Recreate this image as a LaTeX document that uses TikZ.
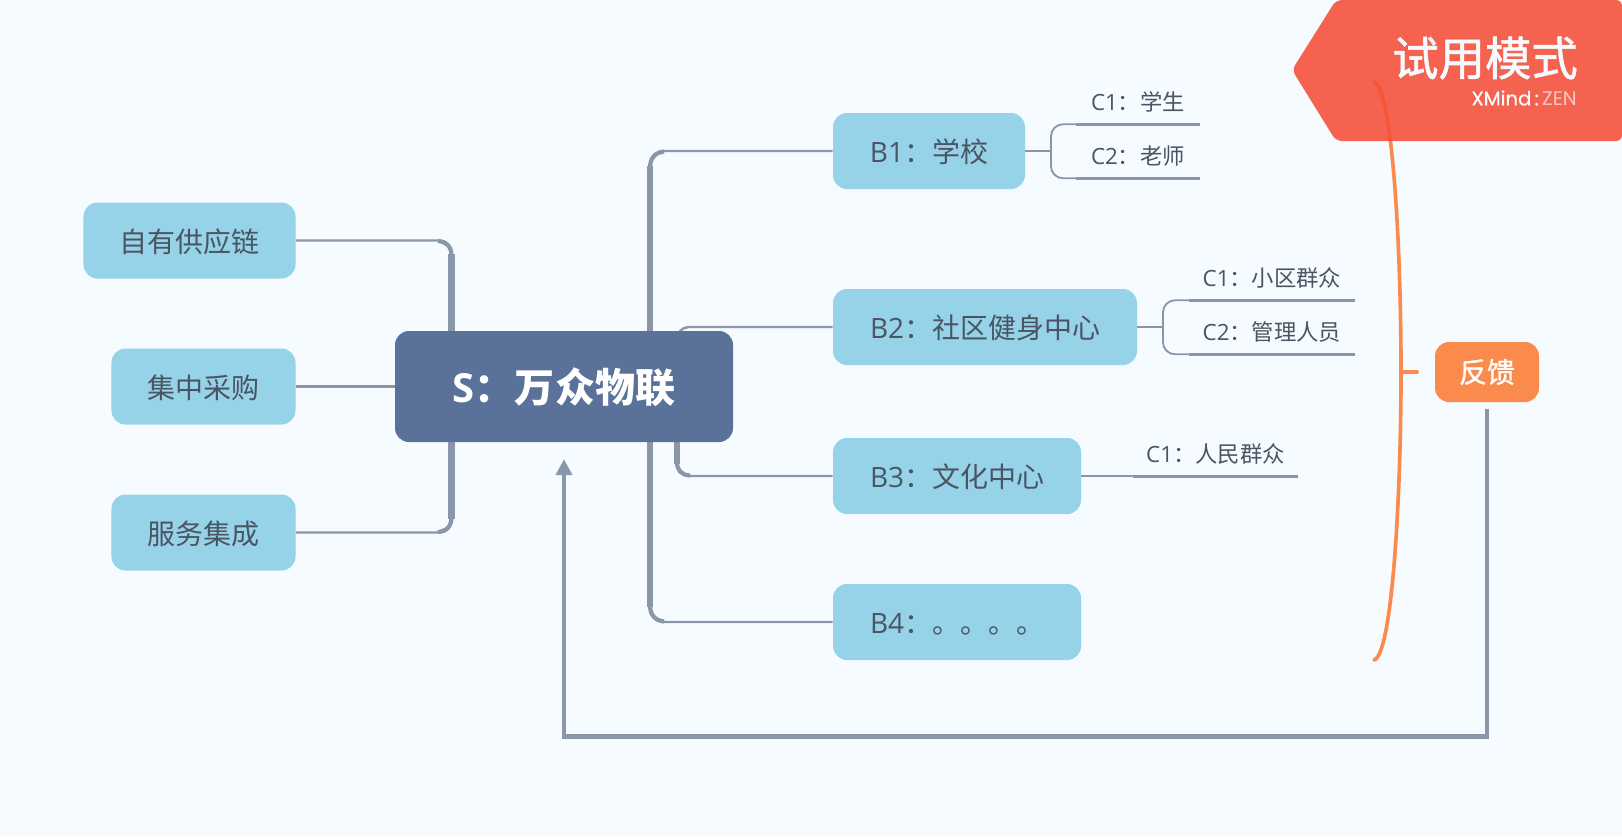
\documentclass[tikz,border=0pt]{standalone}
\usepackage{fontspec}
\setmainfont{Open Sans}
\newfontfamily\cjk{Noto Sans CJK SC}
\newfontfamily\cjkheavy[FakeBold=1.2]{Noto Sans CJK SC}
\newfontfamily\logofont{Poppins}
\newfontfamily\logoheavy[FakeBold=0.7]{Poppins}
\usetikzlibrary{arrows.meta}
\pgfdeclarelayer{bg}
\pgfsetlayers{bg,main}
\definecolor{paper}{HTML}{F5FBFF}
\definecolor{linegray}{HTML}{8A96A9}
\definecolor{skyfill}{HTML}{96D2E8}
\definecolor{rootfill}{HTML}{5A7199}
\definecolor{fbfill}{HTML}{FB8B4D}
\definecolor{inkgray}{HTML}{4A5563}
\definecolor{tagfill}{HTML}{F54D37}
\tikzset{
  topicbox/.style={fill=skyfill, text=inkgray, rounded corners=3.5mm, inner sep=0pt,
    minimum height=19mm, text height=18pt, text depth=1.2pt, font=\fontsize{19.9}{24}\selectfont},
  rootbox/.style={fill=rootfill, text=white, rounded corners=3.5mm, inner sep=0pt,
    minimum width=84.5mm, minimum height=27.75mm, text height=25pt, text depth=1.7pt,
    font=\fontsize{28.5}{34}\selectfont\bfseries},
  fbbox/.style={fill=fbfill, text=white, rounded corners=3.5mm, inner sep=0pt,
    minimum width=26mm, minimum height=15mm, font=\fontsize{19.9}{24}\selectfont},
  leaf/.style={text=inkgray, inner sep=0pt, minimum height=11.5mm, text height=14.4pt, text depth=1pt,
    font=\fontsize{15.9}{19}\selectfont},
  thinconn/.style={draw=linegray, line width=1.7pt},
  midconn/.style={draw=linegray, line width=3pt},
  thickconn/.style={draw=linegray, line width=4.3pt},
  twig/.style={draw=linegray, line width=1.3pt, rounded corners=3mm},
  under/.style={draw=linegray, line width=1.9pt},
  bracket/.style={draw=fbfill, line width=2.6pt, line cap=round}
}
\begin{document}
\begin{tikzpicture}[x=0.25mm, y=-0.25mm]
        \useasboundingbox (0,0) rectangle (1622,836);
        \node (s) [rootbox] at (564,386.5) {S\cjk：万众物联};
        \node (a1) [topicbox, minimum width=53mm] at (189.5,240.5) {\cjk 自有供应链};
        \node (a2) [topicbox, minimum width=46mm] at (203.5,386.5) {\cjk 集中采购};
        \node (a3) [topicbox, minimum width=46mm] at (203.5,532.5) {\cjk 服务集成};
        \node (b1) [topicbox, minimum width=48mm] at (929,151) {B1\cjk：学校};
        \node (b2) [topicbox, minimum width=76mm] at (985,327) {B2\cjk：社区健身中心};
        \node (b3) [topicbox, minimum width=62mm] at (957,476) {B3\cjk：文化中心};
        \node (b4) [topicbox, minimum width=62mm] at (957,622) {B4\cjk：。。。。};
        \node (c1) [leaf, minimum width=30.75mm] at (1138,101) {C1\cjk：学生};
        \node (c2) [leaf, minimum width=30.75mm] at (1138,155) {C2\cjk：老师};
        \node (c3) [leaf, minimum width=41.5mm] at (1272,277) {C1\cjk：小区群众};
        \node (c4) [leaf, minimum width=41.5mm] at (1272,331) {C2\cjk：管理人员};
        \node (c5) [leaf, minimum width=41.25mm] at (1215.5,453) {C1\cjk：人民群众};
        \node (fb) [fbbox] at (1487,372) {\cjkheavy 反馈};
        \coordinate (h1) at (1051,151);
        \coordinate (h2) at (1163,327);
        \coordinate (brtop) at (1374,82);
        \coordinate (brmid) at (1401,372);
        \coordinate (brbot) at (1374,660);
        \coordinate (brtick) at (1417,372);
        \begin{pgfonlayer}{bg}
                \fill [paper] (0,0) rectangle (1622,836);
                % left side
                \draw [thinconn, rounded corners=3mm] (a1.east) -| (451.5,331);
                \draw [midconn] (451.5,256) .. controls (451.5,247) and (447,242) .. (438,241);
                \draw [thickconn] (451.5,331) -- (451.5,254);
                \draw [thinconn, rounded corners=3mm] (a3.east) -| (451.5,442);
                \draw [midconn] (451.5,517) .. controls (451.5,526) and (447,531) .. (438,532);
                \draw [thickconn] (451.5,442) -- (451.5,519);
                \draw (a2) edge [thinconn] (s);
                % right side
                \draw [thinconn, rounded corners=3.5mm] (b1.west) -| (650,331);
                \draw [midconn] (650,168) .. controls (650,158) and (655,152.5) .. (664,151.5);
                \draw [thickconn] (650,331) -- (650,166);
                \draw [thinconn, rounded corners=3.5mm] (b4.west) -| (650,442);
                \draw [midconn] (650,605) .. controls (650,615) and (655,620.5) .. (664,621.5);
                \draw [thickconn] (650,442) -- (650,607);
                \draw [thinconn, rounded corners=3mm] (b2.west) -| (677,345);
                \draw [thinconn, rounded corners=3mm] (b3.west) -| (677,442);
                \draw [midconn] (677,462) .. controls (677,470) and (681,475) .. (690,475.5);
                \draw [thickconn] (677,442) -- (677,464);
                % twigs
                \draw (b1) edge [thinconn] (h1);
                \draw [twig] (h1) |- (c1.south);
                \draw [twig] (h1) |- (c2.south);
                \draw [under] (c1.south west) -- (c1.south east);
                \draw [under] (c2.south west) -- (c2.south east);
                \draw (b2) edge [thinconn] (h2);
                \draw [twig] (h2) |- (c3.south);
                \draw [twig] (h2) |- (c4.south);
                \draw [under] (c3.south west) -- (c3.south east);
                \draw [under] (c4.south west) -- (c4.south east);
                \draw [thinconn] (b3.east |- c5.south) -- (c5.south west);
                \draw [under] (c5.south west) -- (c5.south east);
                % feedback
                \draw [draw=linegray, line width=2.9pt, shorten <=5pt, shorten >=12pt,
                  -{Triangle[width=11.3pt,length=11.3pt]}]
                  (fb.south) |- (1000,736.5) -| (s.south);
        \end{pgfonlayer}
        \draw [bracket] (brtop) .. controls (1392,88) and (1401,240) .. (brmid)
                .. controls (1401,500) and (1392,655) .. (brbot);
        \draw [bracket] (brmid) -- (brtick);
        \fill [tagfill, fill opacity=0.87, rounded corners=1.5mm]
                (1336,0) -- (1622,0) -- (1622,141) -- (1336,141) -- (1292,70) -- cycle;
        \node (tag) [text=paper, inner sep=0pt, font=\fontsize{33}{39}\selectfont\cjkheavy] at (1485,58) {试用模式};
        \node (zen) [text=paper, inner sep=0pt, anchor=east, font=\fontsize{14}{17}\selectfont] at (1577,98)
                {{\logoheavy XMind\,:\,}{\logofont\textcolor{paper!70!tagfill}{ZEN}}};
\end{tikzpicture}
\end{document}
